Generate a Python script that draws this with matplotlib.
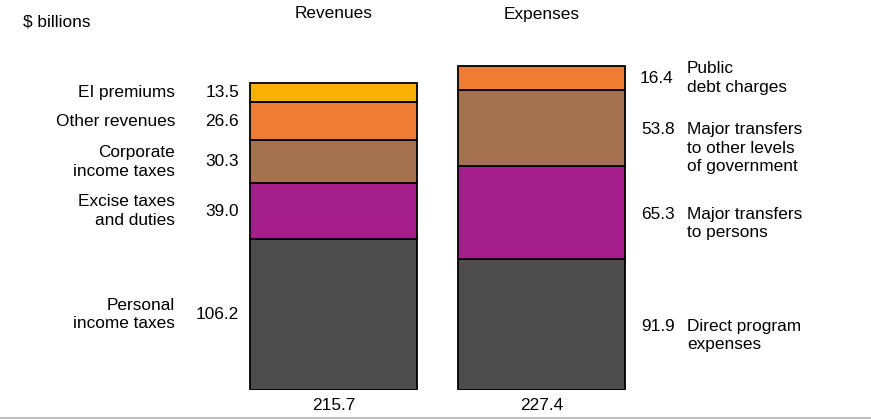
import numpy as np
import matplotlib
matplotlib.use("Agg")
import matplotlib.pyplot as plt
from matplotlib.lines import Line2D

plt.rcParams["font.family"] = ["Liberation Sans", "DejaVu Sans"]

groups = ["Revenues", "Expenses"]
totals = ["215.7", "227.4"]

rev_labels = ["Personal\nincome taxes", "Excise taxes\nand duties", "Corporate\nincome taxes",
              "Other revenues", "EI premiums"]
rev_values = [106.2, 39.0, 30.3, 26.6, 13.5]

exp_labels = ["Direct program\nexpenses", "Major transfers\nto persons",
              "Major transfers\nto other levels\nof government", "Public\ndebt charges"]
exp_values = [91.9, 65.3, 53.8, 16.4]

rev_colors = ["#4d4d4d", "#a51f8b", "#a6714f", "#ee7d31", "#f8b100"]
exp_colors = ["#4d4d4d", "#a51f8b", "#a6714f", "#ee7d31"]

W, H = 871, 419
fig = plt.figure(figsize=(W / 100, H / 100), dpi=100)
ax = fig.add_axes([0, 29 / H, 1, 390 / H])
ax.set_xlim(-333.5 / 208, (W - 333.5) / 208)
ax.set_ylim(0, 390 / 1.423)
ax.axis("off")

fs = 12.4
ls = 1.3
bw = 167 / 208

# revenues
bottom = 0
for lab, v, c in zip(rev_labels, rev_values, rev_colors):
    ax.bar(0, v, bw, bottom=bottom, color=c, edgecolor="black", linewidth=1.3)
    yc = bottom + v / 2
    ax.annotate(f"{v:.1f}", (0 - bw / 2, yc), xytext=(-11, 0), textcoords="offset pixels",
                ha="right", va="center", fontsize=fs)
    ax.annotate(lab, (0 - bw / 2, yc), xytext=(-75, 0), textcoords="offset pixels",
                ha="right", va="center", fontsize=fs, multialignment="right",
                linespacing=ls)
    bottom += v

# expenses: first label line level with the value, except the top one
bottom = 0
for k, (lab, v, c) in enumerate(zip(exp_labels, exp_values, exp_colors)):
    ax.bar(1, v, bw, bottom=bottom, color=c, edgecolor="black", linewidth=1.3)
    yc = bottom + v / 2
    if k == len(exp_values) - 1:
        ax.annotate(f"{v:.1f}", (1 + bw / 2, yc), xytext=(31, 0),
                    textcoords="offset pixels", ha="center", va="center", fontsize=fs)
        ax.annotate(lab, (1 + bw / 2, yc), xytext=(62, 0), textcoords="offset pixels",
                    ha="left", va="center", fontsize=fs, linespacing=ls)
    else:
        ax.annotate(f"{v:.1f}", (1 + bw / 2, yc), xytext=(33, 6),
                    textcoords="offset pixels", ha="center", va="top", fontsize=fs)
        ax.annotate(lab, (1 + bw / 2, yc), xytext=(62, 6), textcoords="offset pixels",
                    ha="left", va="top", fontsize=fs, linespacing=ls)
    bottom += v

for i, (g, t) in enumerate(zip(groups, totals)):
    fig.text(ax.transData.transform((i, 0))[0] / W, 1 - 14 / H, g,
             ha="center", va="center", fontsize=fs)
    ax.annotate(t, (i, 0), xytext=(0, -15), textcoords="offset pixels",
                ha="center", va="center", fontsize=fs)

fig.text(23 / W, 1 - 22 / H, "$ billions", ha="left", va="center", fontsize=fs)
fig.add_artist(Line2D([0, 1], [1.5 / H, 1.5 / H], color="#c0c0c0", linewidth=1.5))

fig.savefig("out.png", dpi=100)
